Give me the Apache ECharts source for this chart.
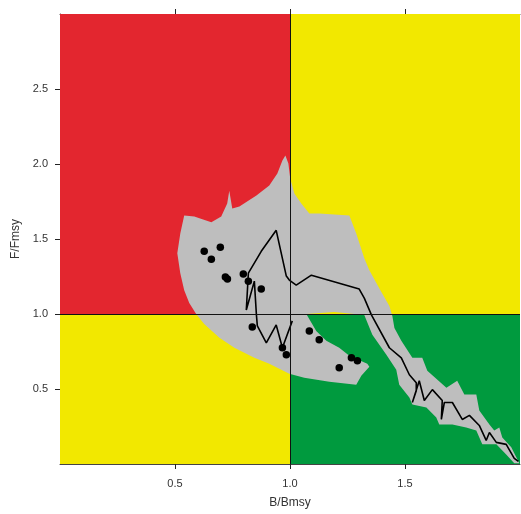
<!DOCTYPE html>
<html>
<head>
<meta charset="utf-8">
<script src="https://cdn.jsdelivr.net/npm/echarts@6/dist/echarts.min.js"></script>
<style>html,body{margin:0;padding:0;background:#fff;}#chart{width:521px;height:514px;}</style>
</head>
<body>
<div id="chart"></div>
<script>
// Axis ticks
const xTicks = [0.5, 1.0, 1.5];
const yTicks = [0.5, 1.0, 1.5, 2.0, 2.5];
// Reference points
const refB = 1.0;
const refF = 1.0;
// Uncertainty cloud outline (B/Bmsy, F/Fmsy)
const cloudB = [0.540,0.584,0.619,0.658,0.701,0.727,0.736,0.749,0.780,0.854,0.910,0.945,0.967,0.980,0.993,1.001,1.019,1.049,1.084,1.127,1.258,1.288,1.323,1.345,1.388,1.432,1.445,1.454,1.484,1.532,1.575,1.597,1.680,1.727,1.758,1.810,1.823,1.867,1.888,1.910,1.923,1.962,1.997,
  1.975,1.940,1.897,1.836,1.810,1.766,1.706,1.649,1.636,1.593,1.532,1.519,1.475,1.462,1.419,1.358,1.323,
  1.193,1.071,1.114,1.158,1.214,1.258,1.336,1.345,1.310,1.288,1.171,1.062,0.997,
  0.910,0.845,0.758,0.693,0.627,0.592,0.562,0.540,0.523,0.510,0.523];
const cloudF = [1.656,1.650,1.631,1.611,1.650,1.737,1.822,1.703,1.717,1.790,1.856,1.936,2.023,2.056,2.003,1.903,1.803,1.737,1.670,1.670,1.657,1.537,1.371,1.291,1.172,1.053,0.987,0.907,0.821,0.708,0.708,0.622,0.509,0.555,0.463,0.463,0.356,0.263,0.223,0.243,0.177,0.111,0.005,
  0.005,0.064,0.131,0.131,0.223,0.243,0.263,0.263,0.310,0.376,0.396,0.443,0.529,0.628,0.728,0.861,0.994,
  1.013,1.000,0.887,0.821,0.775,0.721,0.668,0.648,0.589,0.529,0.549,0.575,0.602,
  0.668,0.708,0.775,0.841,0.934,1.000,1.073,1.159,1.272,1.405,1.537];
// Trajectory
const trajB = [1.993,1.975,1.940,1.897,1.867,1.853,1.823,1.780,1.749,1.706,1.671,1.658,1.662,1.619,1.584,1.562,1.532,1.549,1.549,1.519,1.484,1.432,1.354,1.323,1.301,1.093,1.027,0.997,0.984,0.940,0.875,0.819,0.810,0.845,0.854,0.858,0.897,0.940,0.967,1.010];
const trajF = [0.018,0.038,0.131,0.144,0.210,0.157,0.257,0.324,0.297,0.410,0.410,0.297,0.423,0.496,0.423,0.555,0.410,0.489,0.542,0.595,0.708,0.775,0.994,1.106,1.166,1.259,1.193,1.226,1.253,1.558,1.418,1.272,1.027,1.219,0.994,0.921,0.807,0.927,0.775,0.954];
// Points
const ptB = [0.627,0.697,0.658,0.719,0.728,0.797,0.819,0.875,0.836,0.967,0.984,1.084,1.127,1.267,1.293,1.214];
const ptF = [1.418,1.445,1.365,1.246,1.233,1.266,1.219,1.166,0.914,0.775,0.728,0.887,0.828,0.708,0.688,0.642];

const COL = {red:'#E3262F', yellow:'#F2E800', green:'#009A3E', grey:'#BEBEBE', axis:'#444'};
const xMin = 0, xMax = 2, yMin = 0, yMax = 3;

const chart = echarts.init(document.getElementById('chart'), null, {renderer:'canvas'});
const font = {fontFamily:'Liberation Sans, Arial, sans-serif', fontSize:11, color:'#333'};
const fmt = v => Number(v).toFixed(1);
const baseX = {type:'value', min:xMin, max:xMax, interval:0.5, splitLine:{show:false},
  axisLine:{show:true, onZero:false, lineStyle:{color:COL.axis, width:1}},
  axisTick:{show:true, inside:false, length:5, customValues:xTicks, lineStyle:{color:'#222'}}};
const baseY = {type:'value', min:yMin, max:yMax, interval:0.5, splitLine:{show:false},
  axisLine:{show:true, onZero:false, lineStyle:{color:COL.axis, width:1}},
  axisTick:{show:true, inside:false, length:5, customValues:yTicks, lineStyle:{color:'#222'}}};

chart.setOption({
  animation:false,
  backgroundColor:'#fff',
  grid:{left:60, right:1, top:14, bottom:47, containLabel:false},
  xAxis:[
    Object.assign({}, baseX, {position:'bottom', name:'B/Bmsy', nameLocation:'middle', nameGap:33,
      nameTextStyle:{fontFamily:font.fontFamily, fontSize:12, color:'#333'},
      axisLabel:Object.assign({margin:14, customValues:xTicks, formatter:fmt}, font)}),
    Object.assign({}, baseX, {position:'top', axisLabel:{show:false}})
  ],
  yAxis:[
    Object.assign({}, baseY, {position:'left', name:'F/Fmsy', nameLocation:'middle', nameGap:38,
      nameTextStyle:{fontFamily:font.fontFamily, fontSize:12, color:'#333'},
      axisLabel:Object.assign({margin:12, customValues:yTicks, formatter:fmt}, font)})
  ],
  series:[
    {
      type:'line', data:[], z:1, silent:true,
      markArea:{silent:true, data:[
        [{xAxis:xMin, yAxis:refF, itemStyle:{color:COL.red, opacity:1}}, {xAxis:refB, yAxis:yMax}],
        [{xAxis:refB, yAxis:refF, itemStyle:{color:COL.yellow, opacity:1}}, {xAxis:xMax, yAxis:yMax}],
        [{xAxis:xMin, yAxis:yMin, itemStyle:{color:COL.yellow, opacity:1}}, {xAxis:refB, yAxis:refF}],
        [{xAxis:refB, yAxis:yMin, itemStyle:{color:COL.green, opacity:1}}, {xAxis:xMax, yAxis:refF}]
      ]}
    },
    {
      type:'custom', z:2, silent:true, data:[0],
      renderItem:(params, api) => ({
        type:'polygon',
        shape:{points: cloudB.map((b,i) => api.coord([b, cloudF[i]]))},
        style:{fill:COL.grey, stroke:null}
      })
    },
    {
      type:'line', data:[], z:3, silent:true,
      markLine:{silent:true, symbol:['none','none'], label:{show:false},
        lineStyle:{color:'#111', width:1, type:'solid'},
        data:[{xAxis:refB}, {yAxis:refF}]}
    },
    {
      type:'line', z:4, silent:true, showSymbol:false, symbol:'none',
      lineStyle:{color:'#000', width:1.6},
      data: trajB.map((b,i) => [b, trajF[i]])
    },
    {
      type:'scatter', z:5, silent:true, symbol:'circle', symbolSize:7.5,
      itemStyle:{color:'#000', opacity:1},
      data: ptB.map((b,i) => [b, ptF[i]])
    }
  ]
});
</script>
</body>
</html>
